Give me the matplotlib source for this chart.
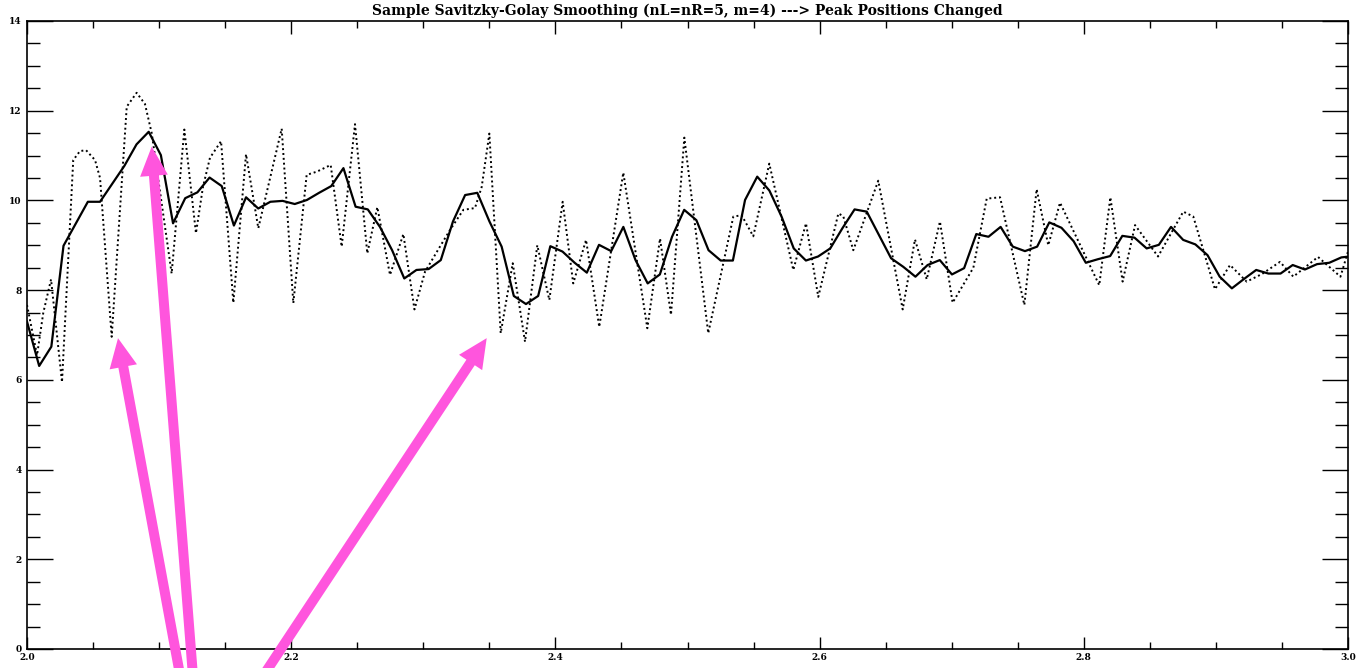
import numpy as np
import matplotlib
matplotlib.use('Agg')
import matplotlib.pyplot as plt
from matplotlib.ticker import MultipleLocator

# smoothed curve, sampled on a uniform grid starting at 2.0
x_step = 0.009213
smooth_y = [7.30, 6.31, 6.74, 8.99, 9.48, 9.97, 9.97, 10.37, 10.77, 11.25,
            11.53, 11.01, 9.49, 10.05, 10.18, 10.51, 10.32, 9.44, 10.07, 9.82,
            9.97, 9.99, 9.92, 10.01, 10.17, 10.32, 10.72, 9.86, 9.80, 9.41,
            8.89, 8.26, 8.45, 8.47, 8.67, 9.53, 10.12, 10.17, 9.53, 8.97,
            7.87, 7.69, 7.87, 8.98, 8.86, 8.61, 8.39, 9.01, 8.87, 9.41,
            8.67, 8.15, 8.35, 9.19, 9.79, 9.56, 8.89, 8.66, 8.66, 10.01,
            10.53, 10.22, 9.64, 8.93, 8.66, 8.75, 8.93, 9.38, 9.80, 9.75,
            9.23, 8.71, 8.52, 8.30, 8.56, 8.67, 8.35, 8.49, 9.25, 9.19,
            9.41, 8.97, 8.87, 8.97, 9.51, 9.39, 9.09, 8.61, 8.69, 8.76,
            9.21, 9.17, 8.93, 9.01, 9.41, 9.12, 9.02, 8.78, 8.30, 8.04,
            8.25, 8.45, 8.37, 8.37, 8.56, 8.46, 8.58, 8.61, 8.73, 8.76]
smooth_x = 2.0 + x_step * np.arange(len(smooth_y))

# original (dotted) curve, turning points
raw_x = [2.0000, 2.0076, 2.0123, 2.0182, 2.0265, 2.0350, 2.0401, 2.0447, 2.0515, 2.0553,
         2.0641, 2.0755, 2.0830, 2.0893, 2.0944, 2.1095, 2.1191, 2.1279, 2.1332, 2.1385,
         2.1469, 2.1562, 2.1658, 2.1751, 2.1928, 2.2016, 2.2117, 2.2193, 2.2299, 2.2382,
         2.2483, 2.2576, 2.2652, 2.2748, 2.2849, 2.2933, 2.3013, 2.3126, 2.3202, 2.3303,
         2.3391, 2.3442, 2.3500, 2.3586, 2.3677, 2.3770, 2.3863, 2.3954, 2.4055, 2.4135,
         2.4232, 2.4332, 2.4514, 2.4696, 2.4792, 2.4875, 2.4976, 2.5157, 2.5347, 2.5410,
         2.5498, 2.5619, 2.5801, 2.5897, 2.5990, 2.6142, 2.6179, 2.6255, 2.6444, 2.6629,
         2.6722, 2.6811, 2.6911, 2.7007, 2.7164, 2.7265, 2.7366, 2.7550, 2.7643, 2.7731,
         2.7820, 2.8117, 2.8201, 2.8294, 2.8388, 2.8562, 2.8753, 2.8829, 2.8993, 2.9107,
         2.9233, 2.9349, 2.9485, 2.9586, 2.9773, 2.9943, 3.0000]
raw_y = [7.67, 6.55, 7.49, 8.24, 5.95, 10.90, 11.10, 11.12, 10.90, 10.50,
         6.96, 12.09, 12.40, 12.15, 11.50, 8.37, 11.58, 9.27, 10.30, 10.95,
         11.32, 7.72, 11.03, 9.38, 11.60, 7.71, 10.57, 10.64, 10.79, 8.97,
         11.70, 8.82, 9.85, 8.34, 9.25, 7.57, 8.41, 8.97, 9.34, 9.79,
         9.83, 10.30, 11.49, 7.04, 8.60, 6.85, 9.00, 7.78, 9.97, 8.15,
         9.12, 7.18, 10.62, 7.15, 9.15, 7.45, 11.40, 7.04, 9.64, 9.67,
         9.20, 10.82, 8.45, 9.49, 7.85, 9.71, 9.65, 8.89, 10.44, 7.57,
         9.13, 8.24, 9.53, 7.72, 8.50, 10.04, 10.07, 7.67, 10.25, 9.00,
         9.95, 8.11, 10.07, 8.19, 9.45, 8.75, 9.75, 9.64, 8.02, 8.56,
         8.19, 8.36, 8.63, 8.30, 8.74, 8.30, 8.86]

# pink arrows: (tail, tip) in data units
arrows = [((2.1166, -0.70), (2.0689, 6.93)),
          ((2.1259, -0.70), (2.0944, 11.20)),
          ((2.1765, -0.70), (2.3480, 6.93))]

title = 'Sample Savitzky-Golay Smoothing (nL=nR=5, m=4) ---> Peak Positions Changed'

fig = plt.figure(figsize=(13.56, 6.68), dpi=100)
ax = fig.add_axes([27 / 1356, 19 / 668, 1321 / 1356, 628 / 668])

ax.plot(raw_x, raw_y, color='black', lw=1.4, linestyle=(0, (1, 1.5)))
ax.plot(smooth_x, smooth_y, color='black', lw=1.6)

ax.set_xlim(2.0, 3.0)
ax.set_ylim(0, 14)
ax.xaxis.set_major_locator(MultipleLocator(0.2))
ax.xaxis.set_minor_locator(MultipleLocator(0.05))
ax.yaxis.set_major_locator(MultipleLocator(2))
ax.yaxis.set_minor_locator(MultipleLocator(0.5))
ax.xaxis.set_major_formatter(plt.FuncFormatter(lambda v, p: '%.1f' % v))
ax.yaxis.set_major_formatter(plt.FuncFormatter(lambda v, p: '%d' % v))

ax.tick_params(axis='x', which='both', direction='in', top=True, bottom=True, width=1, pad=3)
ax.tick_params(axis='x', which='major', length=9)
ax.tick_params(axis='x', which='minor', length=4.8)
ax.tick_params(axis='y', which='both', direction='in', left=True, right=True, width=1, pad=4)
ax.tick_params(axis='y', which='major', length=19)
ax.tick_params(axis='y', which='minor', length=9.5)
for lab in ax.get_xticklabels() + ax.get_yticklabels():
    lab.set_fontfamily('DejaVu Serif')
    lab.set_fontweight('bold')
    lab.set_fontsize(6.5)
for sp in ax.spines.values():
    sp.set_linewidth(1.2)

ax.set_title(title, fontfamily='DejaVu Serif', fontweight='bold', fontsize=10, pad=4)

for tail, tip in arrows:
    ax.annotate('', xy=tip, xytext=tail, annotation_clip=False,
                arrowprops=dict(arrowstyle='simple,head_length=1.05,head_width=1.0,tail_width=0.36',
                                mutation_scale=20, color='#ff55dd', lw=0,
                                shrinkA=0, shrinkB=0))

fig.savefig('out.png', dpi=100)
